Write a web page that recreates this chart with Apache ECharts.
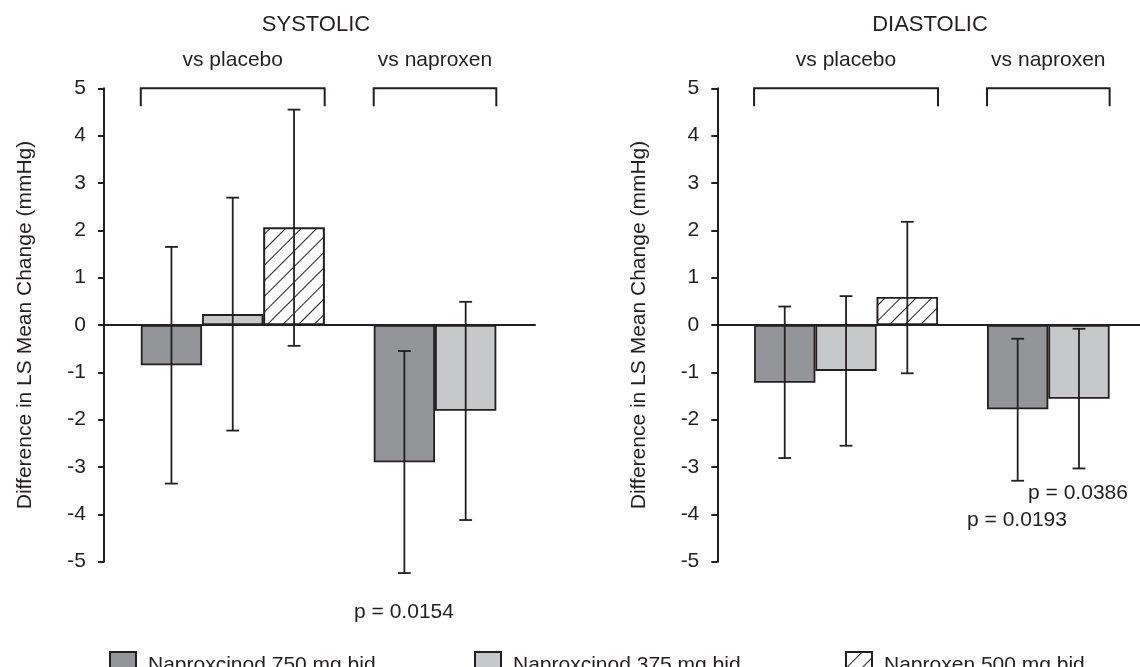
<!DOCTYPE html>
<html><head><meta charset="utf-8">
<script src="https://cdn.jsdelivr.net/npm/echarts@6/dist/echarts.min.js"></script>
<style>html,body{margin:0;padding:0;background:#fff}#c{width:1140px;height:667px}</style>
</head><body><div id="c"></div>
<script>
// ---- data ----
const seriesNames = ['Naproxcinod 750 mg bid', 'Naproxcinod 375 mg bid', 'Naproxen 500 mg bid'];
const groupLabels = ['vs placebo', 'vs naproxen'];
const panelTitles = ['SYSTOLIC', 'DIASTOLIC'];
const yAxisTitle = 'Difference in LS Mean Change (mmHg)';
const yMin = -5, yMax = 5, yStep = 1;

// values per group: [vs placebo, vs naproxen]
const sys750 = [-0.85, -2.90];
const sys750Lo = [-3.35, -5.24];
const sys750Hi = [1.65, -0.55];
const sys375 = [0.23, -1.81];
const sys375Lo = [-2.23, -4.12];
const sys375Hi = [2.69, 0.49];
const sysNap = [2.06];
const sysNapLo = [-0.44];
const sysNapHi = [4.55];

const dia750 = [-1.22, -1.78];
const dia750Lo = [-2.81, -3.29];
const dia750Hi = [0.39, -0.29];
const dia375 = [-0.97, -1.56];
const dia375Lo = [-2.55, -3.03];
const dia375Hi = [0.61, -0.08];
const diaNap = [0.59];
const diaNapLo = [-1.02];
const diaNapHi = [2.18];

const pSys = ['p = 0.0154'];
const pDia = ['p = 0.0386', 'p = 0.0193'];

// ---- layout / style ----
const INK = '#231f20';
const FONT = 'Liberation Sans, Arial, sans-serif';
const FS = 21;
const fills = ['#939598', '#c7c8ca', '#ffffff'];
const groupStart = [0.6, 4.4];       // x-axis units (1 unit = one bar width)
const unitPx = 61.3;
const grids = [
  { left: 104, top: 88.3, width: 431, height: 473.4 },
  { left: 717.3, top: 88.3, width: 422.7, height: 473.4 }
];
const hatch = {
  symbol: 'rect', symbolSize: 1,
  dashArrayX: [[1, 0]], dashArrayY: [1, 9.6],
  rotation: -Math.PI / 4, color: INK, backgroundColor: '#ffffff'
};

const panels = [
  { vals: [sys750, sys375, sysNap], lo: [sys750Lo, sys375Lo, sysNapLo], hi: [sys750Hi, sys375Hi, sysNapHi] },
  { vals: [dia750, dia375, diaNap], lo: [dia750Lo, dia375Lo, diaNapLo], hi: [dia750Hi, dia375Hi, diaNapHi] }
];

function barX(g, s) { return groupStart[g] + 0.5 + s; }

const xAxis = [], yAxis = [], grid = [], series = [];
panels.forEach((p, pi) => {
  const gr = grids[pi];
  grid.push({ left: gr.left, top: gr.top, width: gr.width, height: gr.height });
  xAxis.push({
    type: 'value', gridIndex: pi, min: 0, max: gr.width / unitPx,
    axisLine: { show: true, onZero: true, lineStyle: { color: INK, width: 2 } },
    axisTick: { show: false }, axisLabel: { show: false }, splitLine: { show: false }
  });
  yAxis.push({
    type: 'value', gridIndex: pi, min: yMin, max: yMax, interval: yStep,
    name: yAxisTitle, nameLocation: 'middle', nameRotate: 90, nameGap: 68,
    nameTextStyle: { fontSize: FS, color: INK, fontFamily: FONT },
    axisLine: { show: true, lineStyle: { color: INK, width: 2 } },
    axisTick: { show: true, length: 6, lineStyle: { color: INK, width: 2 } },
    axisLabel: { fontSize: FS, color: INK, fontFamily: FONT, margin: 18 },
    splitLine: { show: false }
  });
  const errData = [];
  p.vals.forEach((arr, si) => {
    const data = arr.map((v, g) => [barX(g, si), v]);
    arr.forEach((v, g) => errData.push([barX(g, si), p.lo[si][g], p.hi[si][g]]));
    series.push({
      type: 'bar', name: seriesNames[si], xAxisIndex: pi, yAxisIndex: pi,
      data: data, barWidth: unitPx, barGap: '-100%',
      itemStyle: Object.assign({ color: fills[si], borderColor: INK, borderWidth: 1.8 },
        si === 2 ? { decal: hatch } : {}),
      emphasis: { disabled: true }, z: 2
    });
  });
  series.push({
    type: 'custom', xAxisIndex: pi, yAxisIndex: pi, z: 4, clip: false, silent: true,
    data: errData,
    renderItem: function (params, api) {
      const x = api.value(0);
      const a = api.coord([x, api.value(2)]);
      const b = api.coord([x, api.value(1)]);
      const cw = 6.4;
      const st = { stroke: INK, lineWidth: 1.8 };
      return { type: 'group', children: [
        { type: 'line', shape: { x1: a[0], y1: a[1], x2: b[0], y2: b[1] }, style: st },
        { type: 'line', shape: { x1: a[0] - cw, y1: a[1], x2: a[0] + cw, y2: a[1] }, style: st },
        { type: 'line', shape: { x1: b[0] - cw, y1: b[1], x2: b[0] + cw, y2: b[1] }, style: st }
      ] };
    }
  });
  // brackets spanning each group's bars
  const brData = groupLabels.map((lab, g) => {
    const n = p.vals.filter(arr => arr[g] !== undefined && arr[g] !== null).length;
    return [groupStart[g], groupStart[g] + n, g];
  });
  series.push({
    type: 'custom', xAxisIndex: pi, yAxisIndex: pi, z: 4, clip: false, silent: true,
    data: brData,
    renderItem: function (params, api) {
      const l = api.coord([api.value(0), yMax]);
      const r = api.coord([api.value(1), yMax]);
      const leg = 18;
      const st = { stroke: INK, lineWidth: 2, fill: null };
      return { type: 'group', children: [
        { type: 'polyline', shape: { points: [[l[0], l[1] + leg], [l[0], l[1]], [r[0], r[1]], [r[0], r[1] + leg]] }, style: st },
        { type: 'text', style: { text: groupLabels[api.value(2)], x: (l[0] + r[0]) / 2, y: l[1] - 28,
          align: 'center', verticalAlign: 'middle', fill: INK, font: FS + 'px ' + FONT } }
      ] };
    }
  });
});

const legends = seriesNames.map((n, i) => ({
  data: [n], left: [104, 469, 840][i], top: 646, icon: 'rect', itemWidth: 26, itemHeight: 26,
  textStyle: { fontSize: FS, color: INK, fontFamily: FONT, padding: [0, 0, 0, 7] },
  itemStyle: { borderColor: INK, borderWidth: 2 }, selectedMode: false
}));

function txt(t, x, y, size) {
  return { type: 'text', x: x, y: y, style: { text: t, fill: INK, font: (size || FS) + 'px ' + FONT, align: 'center', verticalAlign: 'middle' } };
}

const option = {
  backgroundColor: '#fff', animation: false,
  grid: grid, xAxis: xAxis, yAxis: yAxis, series: series, legend: legends,
  graphic: [
    txt(panelTitles[0], 316, 25, 22), txt(panelTitles[1], 930, 25, 22),
    txt(pSys[0], 404, 612), txt(pDia[0], 1078, 493), txt(pDia[1], 1017, 520)
  ]
};
const chart = echarts.init(document.getElementById('c'));
chart.setOption(option);
</script></body></html>
